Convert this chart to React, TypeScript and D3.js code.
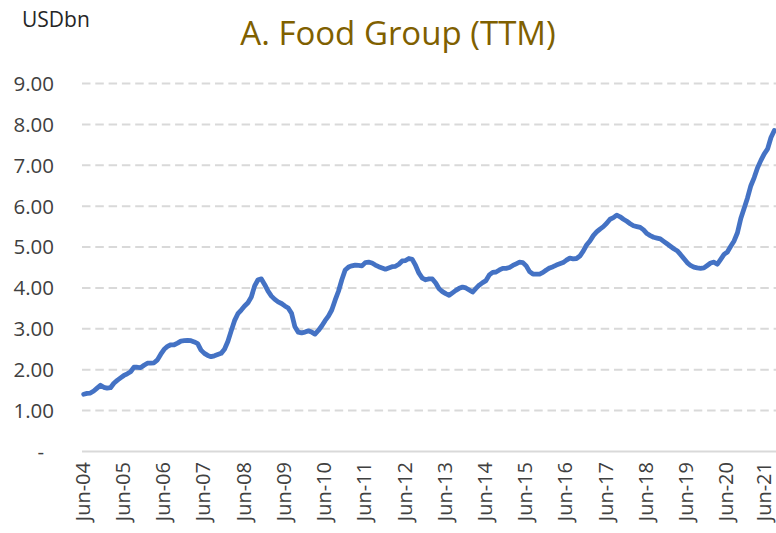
import React, { useEffect, useRef } from 'react'
import * as d3 from 'd3'

// TTM food group value, USD bn, monthly from Jun-04 to Aug-21
const startMonth = new Date(Date.UTC(2004, 5, 1))
const foodValues = [
  1.40, 1.42, 1.43, 1.48, 1.55, 1.62, 1.57, 1.55, 1.56, 1.67, 1.74, 1.80,
  1.86, 1.90, 1.95, 2.06, 2.06, 2.05, 2.11, 2.16, 2.16, 2.17, 2.24, 2.38,
  2.50, 2.57, 2.61, 2.61, 2.65, 2.70, 2.71, 2.72, 2.71, 2.68, 2.64, 2.48,
  2.40, 2.35, 2.32, 2.34, 2.37, 2.40, 2.50, 2.69, 2.95, 3.20, 3.37, 3.46,
  3.56, 3.64, 3.78, 4.05, 4.20, 4.22, 4.08, 3.92, 3.80, 3.72, 3.66, 3.62,
  3.56, 3.51, 3.38, 3.05, 2.92, 2.90, 2.92, 2.95, 2.92, 2.87, 2.96, 3.07,
  3.20, 3.31, 3.46, 3.70, 3.92, 4.20, 4.44, 4.51, 4.54, 4.56, 4.55, 4.54,
  4.62, 4.63, 4.61, 4.56, 4.52, 4.49, 4.46, 4.49, 4.52, 4.53, 4.58, 4.66,
  4.67, 4.72, 4.70, 4.55, 4.36, 4.24, 4.20, 4.22, 4.22, 4.12, 3.98, 3.91,
  3.86, 3.82, 3.88, 3.94, 3.99, 4.02, 4.00, 3.95, 3.90, 3.99, 4.07, 4.13,
  4.18, 4.32, 4.38, 4.39, 4.44, 4.48, 4.48, 4.50, 4.55, 4.59, 4.63, 4.62,
  4.54, 4.40, 4.34, 4.34, 4.34, 4.38, 4.44, 4.49, 4.52, 4.56, 4.59, 4.62,
  4.68, 4.73, 4.71, 4.72, 4.78, 4.90, 5.05, 5.15, 5.28, 5.37, 5.44, 5.50,
  5.58, 5.68, 5.72, 5.78, 5.74, 5.68, 5.63, 5.57, 5.52, 5.50, 5.48, 5.42,
  5.33, 5.28, 5.24, 5.22, 5.20, 5.14, 5.08, 5.02, 4.96, 4.91, 4.82, 4.72,
  4.62, 4.55, 4.51, 4.49, 4.48, 4.49, 4.55, 4.61, 4.63, 4.58, 4.70, 4.82,
  4.88, 5.02, 5.15, 5.35, 5.70, 5.95, 6.20, 6.50, 6.70, 6.94, 7.12, 7.28,
  7.40, 7.68, 7.85
]
const xTickLabels = [
  'Jun-04', 'Jun-05', 'Jun-06', 'Jun-07', 'Jun-08', 'Jun-09', 'Jun-10', 'Jun-11', 'Jun-12',
  'Jun-13', 'Jun-14', 'Jun-15', 'Jun-16', 'Jun-17', 'Jun-18', 'Jun-19', 'Jun-20', 'Jun-21'
]
const yTickValues = [0, 1, 2, 3, 4, 5, 6, 7, 8, 9]
const yTickLabels = ['-', '1.00', '2.00', '3.00', '4.00', '5.00', '6.00', '7.00', '8.00', '9.00']

const width = 776
const height = 533
const font = '"Open Sans", "Noto Sans", sans-serif'

export default function App () {
  const ref = useRef<SVGSVGElement>(null)

  useEffect(() => {
    const svg = d3.select(ref.current)
    svg.selectAll('*').remove()

    const months = foodValues.map((_, i) => d3.utcMonth.offset(startMonth, i))

    const x = d3.scaleBand<Date>()
      .domain(months)
      .range([82, 776])
    const xc = (d: Date) => (x(d) as number) + x.bandwidth() / 2

    const y = d3.scaleLinear()
      .domain([0, 9])
      .range([451.5, 83.5])

    // gridlines, the zero line is solid
    svg.append('g')
      .selectAll('line')
      .data(yTickValues)
      .enter()
      .append('line')
        .attr('x1', 82)
        .attr('x2', 776)
        .attr('y1', d => y(d))
        .attr('y2', d => y(d))
        .attr('stroke', '#d9d9d9')
        .attr('stroke-width', 2)
        .attr('stroke-dasharray', d => d === 0 ? null : '8.5 4.8')

    // y labels
    svg.append('g')
      .selectAll('text')
      .data(yTickValues)
      .enter()
      .append('text')
        .attr('x', d => d === 0 ? 44 : 54)
        .attr('y', d => y(d))
        .attr('dy', '0.36em')
        .attr('text-anchor', 'end')
        .attr('font-family', font)
        .attr('font-size', 20.5)
        .attr('fill', '#404040')
        .text((d, i) => yTickLabels[i])

    // x labels, one every 12 months (kept inside the right edge)
    svg.append('g')
      .selectAll('text')
      .data(xTickLabels)
      .enter()
      .append('text')
        .attr('transform', (d, i) => {
          let lx = Math.min(xc(months[i * 12]), width - 11.5)
          return 'translate(' + lx + ',462) rotate(-90)'
        })
        .attr('dy', '0.3em')
        .attr('text-anchor', 'end')
        .attr('font-family', font)
        .attr('font-size', 20)
        .attr('fill', '#404040')
        .text(d => d)

    const line = d3.line<number>()
      .x((d, i) => xc(months[i]))
      .y(d => y(d))
      .curve(d3.curveLinear)

    svg.append('path')
      .datum(foodValues)
      .attr('d', line)
      .attr('fill', 'none')
      .attr('stroke', '#4472c4')
      .attr('stroke-width', 4.8)
      .attr('stroke-linejoin', 'round')
      .attr('stroke-linecap', 'round')

    svg.append('text')
      .attr('x', 22)
      .attr('y', 27)
      .attr('font-family', font)
      .attr('font-size', 21)
      .attr('fill', '#262626')
      .text('USDbn')

    svg.append('text')
      .attr('x', 398)
      .attr('y', 45)
      .attr('text-anchor', 'middle')
      .attr('font-family', font)
      .attr('font-size', 33)
      .attr('fill', '#7f6000')
      .text('A. Food Group (TTM)')
  }, [])

  return (
    <svg
      ref={ref}
      width={width}
      height={height}
      style={{ position: 'absolute', left: 0, top: 0, background: '#fff' }}
    />
  )
}
